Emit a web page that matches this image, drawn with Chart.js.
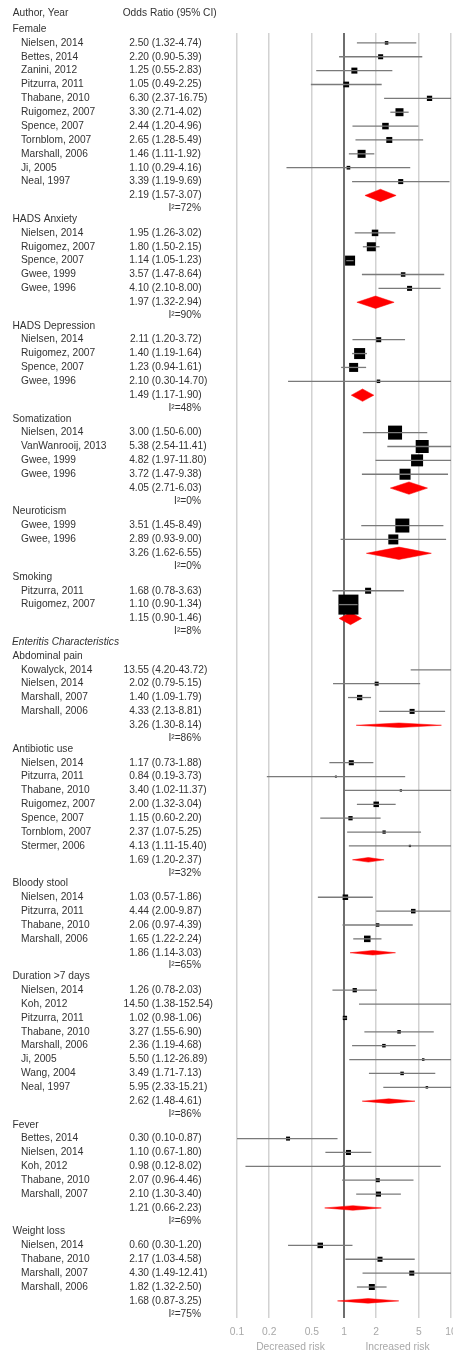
<!DOCTYPE html>
<html><head><meta charset="utf-8">
<script src="https://cdn.jsdelivr.net/npm/chart.js@4/dist/chart.umd.min.js"></script>
<style>html,body{margin:0;padding:0;background:#fff}#wrap{width:453px;height:1355px;position:relative}canvas{display:block}</style>
</head><body><div id="wrap"><canvas id="c" width="453" height="1355"></canvas></div>
<script>
// ---------------- DATA ----------------
const sectionNames = ['Female','HADS Anxiety','HADS Depression','Somatization','Neuroticism','Smoking',
  'Abdominal pain','Antibiotic use','Bloody stool','Duration >7 days','Fever','Weight loss'];
const groupLabel = 'Enteritis Characteristics';
const groupStartsAt = 6;
const headerLabels = ['Author, Year','Odds Ratio (95% CI)'];

const studyNames = [
  'Nielsen, 2014','Bettes, 2014','Zanini, 2012','Pitzurra, 2011','Thabane, 2010','Ruigomez, 2007','Spence, 2007','Tornblom, 2007','Marshall, 2006','Ji, 2005','Neal, 1997',
  'Nielsen, 2014','Ruigomez, 2007','Spence, 2007','Gwee, 1999','Gwee, 1996',
  'Nielsen, 2014','Ruigomez, 2007','Spence, 2007','Gwee, 1996',
  'Nielsen, 2014','VanWanrooij, 2013','Gwee, 1999','Gwee, 1996',
  'Gwee, 1999','Gwee, 1996',
  'Pitzurra, 2011','Ruigomez, 2007',
  'Kowalyck, 2014','Nielsen, 2014','Marshall, 2007','Marshall, 2006',
  'Nielsen, 2014','Pitzurra, 2011','Thabane, 2010','Ruigomez, 2007','Spence, 2007','Tornblom, 2007','Stermer, 2006',
  'Nielsen, 2014','Pitzurra, 2011','Thabane, 2010','Marshall, 2006',
  'Nielsen, 2014','Koh, 2012','Pitzurra, 2011','Thabane, 2010','Marshall, 2006','Ji, 2005','Wang, 2004','Neal, 1997',
  'Bettes, 2014','Nielsen, 2014','Koh, 2012','Thabane, 2010','Marshall, 2007',
  'Nielsen, 2014','Thabane, 2010','Marshall, 2007','Marshall, 2006'
];
const studySection = [
  0,0,0,0,0,0,0,0,0,0,0,
  1,1,1,1,1,
  2,2,2,2,
  3,3,3,3,
  4,4,
  5,5,
  6,6,6,6,
  7,7,7,7,7,7,7,
  8,8,8,8,
  9,9,9,9,9,9,9,9,
  10,10,10,10,10,
  11,11,11,11
];
const studyOR = [
  2.50,2.20,1.25,1.05,6.30,3.30,2.44,2.65,1.46,1.10,3.39,
  1.95,1.80,1.14,3.57,4.10,
  2.11,1.40,1.23,2.10,
  3.00,5.38,4.82,3.72,
  3.51,2.89,
  1.68,1.10,
  13.55,2.02,1.40,4.33,
  1.17,0.84,3.40,2.00,1.15,2.37,4.13,
  1.03,4.44,2.06,1.65,
  1.26,14.50,1.02,3.27,2.36,5.50,3.49,5.95,
  0.30,1.10,0.98,2.07,2.10,
  0.60,2.17,4.30,1.82
];
const studyLo = [
  1.32,0.90,0.55,0.49,2.37,2.71,1.20,1.28,1.11,0.29,1.19,
  1.26,1.50,1.05,1.47,2.10,
  1.20,1.19,0.94,0.30,
  1.50,2.54,1.97,1.47,
  1.45,0.93,
  0.78,0.90,
  4.20,0.79,1.09,2.13,
  0.73,0.19,1.02,1.32,0.60,1.07,1.11,
  0.57,2.00,0.97,1.22,
  0.78,1.38,0.98,1.55,1.19,1.12,1.71,2.33,
  0.10,0.67,0.12,0.96,1.30,
  0.30,1.03,1.49,1.32
];
const studyHi = [
  4.74,5.39,2.83,2.25,16.75,4.02,4.96,5.49,1.92,4.16,9.69,
  3.02,2.15,1.23,8.64,8.00,
  3.72,1.64,1.61,14.70,
  6.00,11.41,11.80,9.38,
  8.49,9.00,
  3.63,1.34,
  43.72,5.15,1.79,8.81,
  1.88,3.73,11.37,3.04,2.20,5.25,15.40,
  1.86,9.87,4.39,2.24,
  2.03,152.54,1.06,6.90,4.68,26.89,7.13,15.21,
  0.87,1.80,8.02,4.46,3.40,
  1.20,4.58,12.41,2.50
];
// relative study weight (drives box area)
const studyWeight = [
  3.1,6.3,9,8.1,7,16,10.6,9,16,3.4,6.3,
  10.6,20.3,25,5.1,6.3,
  6.3,30.3,20.3,3.1,
  49,42.3,36,30.3,
  49,25,
  9,100,
  6.3,4,7,6.3,
  6.3,1,1.3,7.6,4.6,2.7,1.3,
  7.6,5.1,3.1,10.6,
  4.6,2.3,4.6,3.1,3.1,1.6,3.1,1.6,
  4,6.3,0.6,4,6.3,
  7.6,6.3,6.3,9
];
const pooledOR = [2.19,1.97,1.49,4.05,3.26,1.15,3.26,1.69,1.86,2.62,1.21,1.68];
const pooledLo = [1.57,1.32,1.17,2.71,1.62,0.90,1.30,1.20,1.14,1.48,0.66,0.87];
const pooledHi = [3.07,2.94,1.90,6.03,6.55,1.46,8.14,2.37,3.03,4.61,2.23,3.25];
const pooledI2 = [72,90,48,0,0,8,86,32,65,86,69,75];

const xTicks = [0.1,0.2,0.5,1,2,5,10];
const xTickLabels = ['0.1','0.2','0.5','1','2','5','10'];
const sideLabels = ['Decreased risk','Increased risk'];

// ---------------- LAYOUT ----------------
const W = 453, H = 1355;
const PITCH = 13.87, ORIGIN_Y = 29, TOP = 33, BOTTOM = 1318, LEFT = 237, RIGHT = 451;
const FONT_SIZE = 10.2;
const FONT = FONT_SIZE + 'px "Liberation Sans", Arial, Helvetica, sans-serif';
const AXIS_FONT = '10.3px "Liberation Sans", Arial, Helvetica, sans-serif';
const TEXT_COLOR = '#333';
const AXIS_COLOR = '#a8a8a8';
const SECTION_GAP = 1.7, I2_OFFSET = 0.93;

const rows = [];
(function buildRows(){
  let v = 0;
  for (let s = 0; s < sectionNames.length; s++) {
    if (s === groupStartsAt) { rows.push({kind:'group', v}); v += 1; }
    rows.push({kind:'section', s, v}); v += 1;
    studySection.forEach((sec, i) => { if (sec === s) { rows.push({kind:'study', i, v}); v += 1; } });
    rows.push({kind:'pooled', s, v});
    rows.push({kind:'i2', s, v: v + I2_OFFSET});
    v += SECTION_GAP;
  }
})();
const studyRow = {}; const pooledRow = {};
rows.forEach(r => { if (r.kind === 'study') studyRow[r.i] = r.v; if (r.kind === 'pooled') pooledRow[r.s] = r.v; });

const fmt = n => n.toFixed(2);
const boxRadius = w => (2 * Math.sqrt(w)) / (2 * Math.SQRT1_2);

// ---------------- DATASETS ----------------
const datasets = [];
// CI lines (drawn on top of boxes)
studyNames.forEach((n, i) => {
  datasets.push({
    type: 'scatter', showLine: true, order: 0,
    data: [{x: studyLo[i], y: studyRow[i]}, {x: studyHi[i], y: studyRow[i]}],
    borderColor: '#7a7a7a', borderWidth: 1.3, pointRadius: 0, pointHoverRadius: 0, fill: false
  });
});
// boxes
datasets.push({
  type: 'scatter', order: 1,
  data: studyNames.map((n, i) => ({x: studyOR[i], y: studyRow[i]})),
  pointStyle: 'rect',
  pointRadius: studyWeight.map(boxRadius),
  pointHoverRadius: studyWeight.map(boxRadius),
  backgroundColor: '#000', borderWidth: 0, pointBorderWidth: 0
});
// pooled diamonds
pooledOR.forEach((or, s) => {
  const halfPx = s < groupStartsAt ? 6.2 : 2.3;
  const h = halfPx / PITCH;
  const r = pooledRow[s];
  datasets.push({
    type: 'scatter', showLine: true, order: 2,
    data: [{x: pooledLo[s], y: r}, {x: or, y: r - h}, {x: pooledHi[s], y: r}, {x: or, y: r + h}, {x: pooledLo[s], y: r}],
    borderColor: '#ff0000', backgroundColor: '#ff0000', borderWidth: 0.5,
    pointRadius: 0, pointHoverRadius: 0, fill: 'shape', tension: 0
  });
});

// ---------------- TEXT PLUGIN ----------------
const textPlugin = {
  id: 'forestText',
  afterDraw(chart) {
    const ctx = chart.ctx, ys = chart.scales.y, xs = chart.scales.x;
    const py = v => ys.getPixelForValue(v);
    const NAME_X = 21, SECTION_X = 12.5, NUM_X = 149, I2_X = 201;
    ctx.save();
    ctx.font = FONT; ctx.fillStyle = TEXT_COLOR; ctx.textBaseline = 'middle';
    const drawOR = (or, lo, hi, y) => {
      const first = fmt(or);
      const str = first + ' (' + fmt(lo) + '-' + fmt(hi) + ')';
      ctx.textAlign = 'left';
      ctx.fillText(str, NUM_X - ctx.measureText(first).width, y);
    };
    // header
    const hy = py((13 - ORIGIN_Y) / PITCH);
    ctx.textAlign = 'left';
    ctx.fillText(headerLabels[0], 12.7, hy);
    ctx.fillText(headerLabels[1], 122.7, hy);
    rows.forEach(r => {
      const y = py(r.v);
      if (r.kind === 'group') {
        ctx.font = 'italic ' + FONT; ctx.textAlign = 'left';
        ctx.fillText(groupLabel, 12, y);
        ctx.font = FONT;
      } else if (r.kind === 'section') {
        ctx.textAlign = 'left'; ctx.fillText(sectionNames[r.s], SECTION_X, y);
      } else if (r.kind === 'study') {
        ctx.textAlign = 'left'; ctx.fillText(studyNames[r.i], NAME_X, y);
        drawOR(studyOR[r.i], studyLo[r.i], studyHi[r.i], y);
      } else if (r.kind === 'pooled') {
        drawOR(pooledOR[r.s], pooledLo[r.s], pooledHi[r.s], y);
      } else if (r.kind === 'i2') {
        ctx.textAlign = 'right'; ctx.fillText('I\u00B2=' + pooledI2[r.s] + '%', I2_X, y);
      }
    });
    // x tick labels and side labels under the axis
    ctx.font = AXIS_FONT; ctx.fillStyle = AXIS_COLOR; ctx.textAlign = 'center';
    xTicks.forEach((t, k) => ctx.fillText(xTickLabels[k], xs.getPixelForValue(t), 1332));
    const p01 = xs.getPixelForValue(0.1), p1 = xs.getPixelForValue(1), p10 = xs.getPixelForValue(10);
    ctx.fillText(sideLabels[0], (p01 + p1) / 2, 1347);
    ctx.fillText(sideLabels[1], (p1 + p10) / 2, 1347);
    ctx.restore();
  }
};

// ---------------- CHART ----------------
new Chart(document.getElementById('c'), {
  type: 'scatter',
  data: { datasets },
  plugins: [textPlugin],
  options: {
    responsive: false, animation: false, events: [], devicePixelRatio: 1,
    layout: { autoPadding: false, padding: { top: TOP, left: LEFT, right: W - RIGHT, bottom: 0 } },
    plugins: { legend: { display: false }, tooltip: { enabled: false } },
    scales: {
      x: {
        type: 'logarithmic', min: 0.1, max: 10, position: 'bottom',
        afterBuildTicks: sc => { sc.ticks = xTicks.map(v => ({value: v})); },
        afterFit: sc => { sc.height = H - BOTTOM; sc.paddingLeft = 0; sc.paddingRight = 0; },
        border: { display: false },
        grid: {
          drawTicks: false,
          color: c => (c.tick && c.tick.value === 1) ? '#6e6e6e' : '#d2d2d2',
          lineWidth: c => (c.tick && c.tick.value === 1) ? 2 : 1.5
        },
        ticks: { display: false }
      },
      y: {
        type: 'linear', reverse: true, display: false,
        min: (TOP - ORIGIN_Y) / PITCH, max: (BOTTOM - ORIGIN_Y) / PITCH
      }
    }
  }
});
</script>
</body></html>
